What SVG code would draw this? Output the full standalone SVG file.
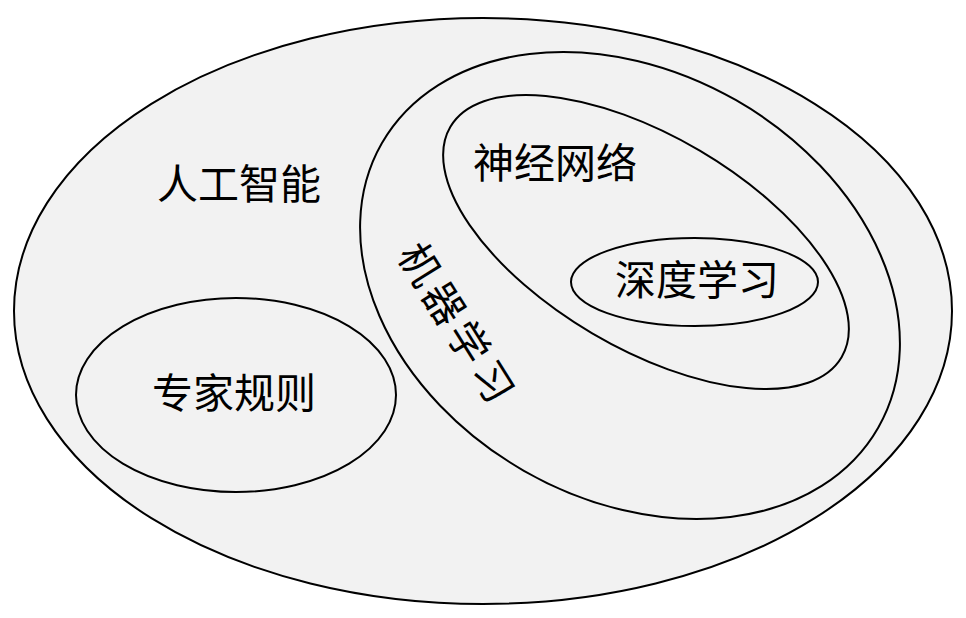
<svg xmlns="http://www.w3.org/2000/svg" width="966" height="618" viewBox="0 0 966 618">
<style>
.shape{fill:#f2f2f2;stroke:#000;stroke-width:2}
.lbl{font-family:"Noto Sans CJK SC","Noto Sans",sans-serif;font-size:41px;fill:#000;text-anchor:middle}
</style>
<rect width="966" height="618" fill="#fff"/>
<g id="ai">
<ellipse class="shape" cx="483" cy="311" rx="469" ry="293"/>
<text class="lbl" x="239" y="199">人工智能</text>
</g>
<g id="expert">
<ellipse class="shape" cx="236" cy="395" rx="160" ry="97"/>
<text class="lbl" x="234" y="408">专家规则</text>
</g>
<g id="ml">
<ellipse class="shape" cx="630" cy="285.5" rx="286" ry="213.5" transform="rotate(29.8 630 285.5)"/>
<text class="lbl" x="456" y="326" dy="13" font-size="36" letter-spacing="5" transform="rotate(58 456 326)">机器学习</text>
</g>
<g id="nn">
<ellipse class="shape" cx="646" cy="242" rx="227" ry="106" transform="rotate(30.5 646 242)"/>
<text class="lbl" x="555" y="178">神经网络</text>
</g>
<g id="dl">
<ellipse class="shape" cx="694.5" cy="282" rx="123.5" ry="44"/>
<text class="lbl" x="697" y="295">深度学习</text>
</g>
<g id="connectors"/>
</svg>
